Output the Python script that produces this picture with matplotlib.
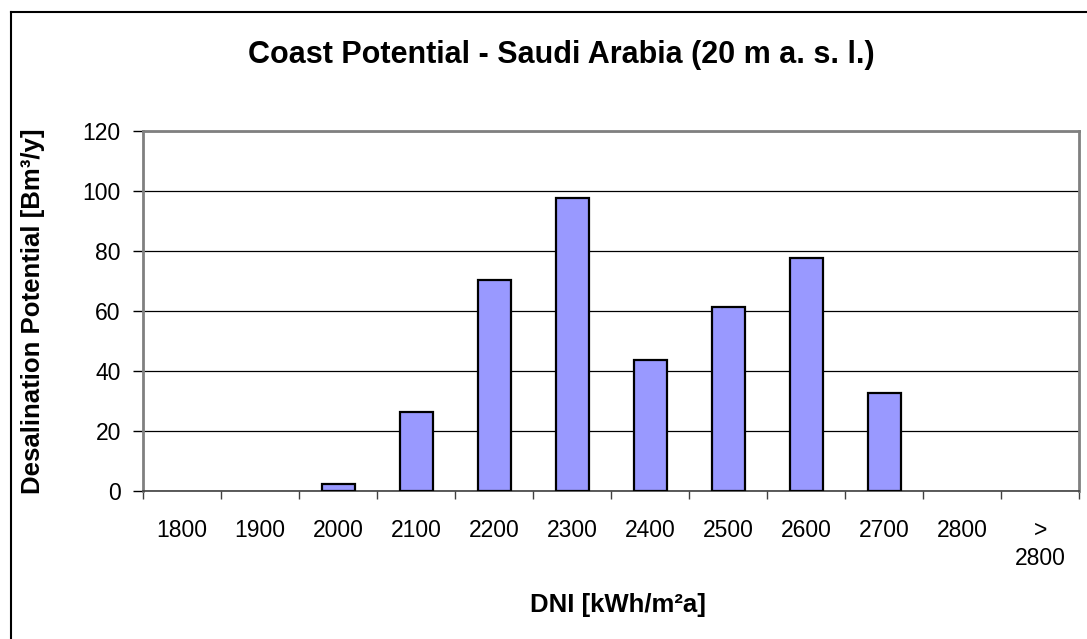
import matplotlib.pyplot as plt
import numpy as np
from matplotlib.lines import Line2D

plt.rcParams['font.family'] = ['Liberation Sans', 'DejaVu Sans']

## data ##
categorias = ['1800', '1900', '2000', '2100', '2200', '2300', '2400',
              '2500', '2600', '2700', '2800', '>\n2800']
potencial = [0, 0, 2.5, 26.4, 70.3, 97.8, 43.7, 61.4, 77.7, 32.6, 0, 0]
yticks = [0, 20, 40, 60, 80, 100, 120]

## figura ##
fig = plt.figure(figsize=(10.87, 6.39), dpi=100)
ax = fig.add_axes([0.1316, 0.2316, 0.8615, 0.5634])

x = np.arange(len(categorias))
# barras com valor zero ficam sem contorno, como no original
bordas = [1.6 if v > 0 else 0 for v in potencial]
ax.bar(x, potencial, width=0.42, color='#9999FF', edgecolor='black',
       linewidth=bordas, zorder=3)

ax.set_xlim(-0.5, len(categorias) - 0.5)
ax.set_ylim(0, 120)
ax.set_yticks(yticks)
ax.yaxis.grid(True, color='black', linewidth=0.9, zorder=0)

ax.set_xticks(x)
ax.set_xticklabels(categorias, fontsize=16.5, linespacing=1.3)
ax.set_xticks(np.arange(len(categorias) + 1) - 0.5, minor=True)
ax.tick_params(axis='x', which='major', length=0, pad=20)
ax.tick_params(axis='x', which='minor', length=6, width=1, color='#404040',
               direction='out')
ax.tick_params(axis='y', labelsize=16.5, length=7, width=1, pad=9)

for lado in ['left', 'top', 'right']:
    ax.spines[lado].set_color('#808080')
    ax.spines[lado].set_linewidth(2)
ax.spines['bottom'].set_color('#404040')
ax.spines['bottom'].set_linewidth(1.2)

fig.text(618 / 1087, 1 - 605 / 639, 'DNI [kWh/m²a]', ha='center',
         va='center', fontsize=18.5, fontweight='bold')
fig.text(33 / 1087, 1 - 311 / 639, 'Desalination Potential [Bm³/y]',
         ha='center', va='center', rotation=90, fontsize=18.5,
         fontweight='bold')
fig.text(561 / 1087, 1 - 55 / 639,
         'Coast Potential - Saudi Arabia (20 m a. s. l.)',
         ha='center', va='center', fontsize=22, fontweight='bold')

## borda externa (só topo e esquerda visíveis) ##
fig.add_artist(Line2D([11 / 1087, 1.0], [1 - 12 / 639, 1 - 12 / 639],
                      color='black', linewidth=1.5, transform=fig.transFigure))
fig.add_artist(Line2D([11 / 1087, 11 / 1087], [0, 1 - 12 / 639],
                      color='black', linewidth=1.5, transform=fig.transFigure))

fig.savefig('out.png', dpi=100)
